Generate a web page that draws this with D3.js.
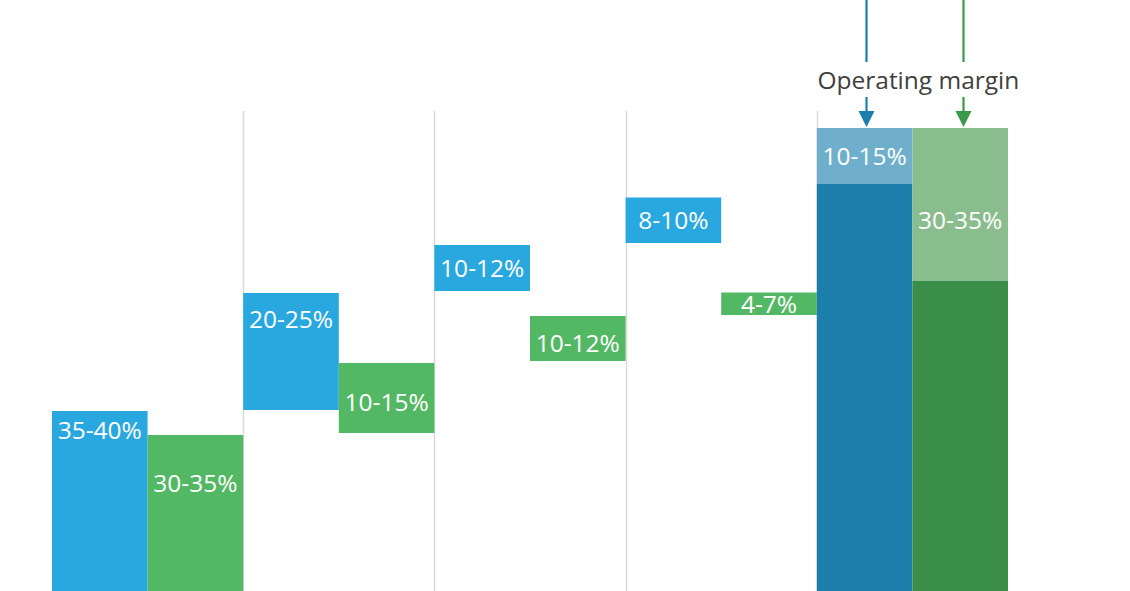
<!DOCTYPE html>
<html>
<head>
<meta charset="utf-8">
<script src="https://cdn.jsdelivr.net/npm/d3@7"></script>
<style>
  body { margin: 0; background: #fff; }
  svg { display: block; }
  text { font-family: "Open Sans", "Noto Sans", sans-serif; }
</style>
</head>
<body>
<svg id="chart" width="1130" height="591"></svg>
<script>

// Steps of the waterfall, last one is the total column
var groups = ['Step 1', 'Step 2', 'Step 3', 'Step 4', 'Total'];
var series = ['blue', 'green'];

// Floating bars, share of revenue (start / end of each step)
var blueStart = [0, 43.6, 67.4, 77, 0];
var blueEnd = [43.4, 67, 76.6, 86.1, 88.8];
var greenStart = [0, 39, 53.4, 62.6, 0];
var greenEnd = [38.6, 53, 62.4, 67.1, 69.4];

// Operating margin sits on top of the total column up to 100
var marginTop = 100;

var blueLabels = ['35-40%', '20-25%', '10-12%', '8-10%', '10-15%'];
var greenLabels = ['30-35%', '10-15%', '10-12%', '4-7%', '30-35%'];

var annotation = 'Operating margin';

var COLOR = {
    blue: { bar: '#29a7df', total: '#1b7eab', margin: '#6fafcc', arrow: '#1b7eab' },
    green: { bar: '#53b864', total: '#3a8e47', margin: '#8abd8e', arrow: '#3a9a49' }
};

var W = 1130, H = 591;
var svg = d3.select('#chart');

var x = d3.scaleBand()
    .domain(groups)
    .range([52, 1008])
    .padding(0);

var xs = d3.scaleBand()
    .domain(series)
    .range([0, x.bandwidth()]);

var y = d3.scaleLinear()
    .domain([0, 100])
    .range([628, 128]);

function buildBars() {
    var bars = [];
    var last = groups.length - 1;
    for (var i = 0; i < groups.length; i++) {
        bars.push({ g: groups[i], s: 'blue', y0: blueStart[i], y1: blueEnd[i],
            kind: i === last ? 'total' : 'bar', label: i === last ? null : blueLabels[i], i: i });
        bars.push({ g: groups[i], s: 'green', y0: greenStart[i], y1: greenEnd[i],
            kind: i === last ? 'total' : 'bar', label: i === last ? null : greenLabels[i], i: i });
    }
    // margin segments on the total column
    bars.push({ g: groups[last], s: 'blue', y0: blueEnd[last], y1: marginTop,
        kind: 'margin', label: blueLabels[last], i: last });
    bars.push({ g: groups[last], s: 'green', y0: greenEnd[last], y1: marginTop,
        kind: 'margin', label: greenLabels[last], i: last });
    return bars;
}

var bars = buildBars();

// gridlines between the groups
var grid = svg.append('g').attr('class', 'grid');
grid.selectAll('line')
    .data(groups.slice(1))
    .enter().append('line')
        .attr('x1', function(d) { return Math.round(x(d)) + 0.5; })
        .attr('x2', function(d) { return Math.round(x(d)) + 0.5; })
        .attr('y1', y(marginTop) - 17)
        .attr('y2', H)
        .style('stroke', '#d9d9d9')
        .style('stroke-width', 1.5);

var barG = svg.append('g').attr('class', 'bars');
barG.selectAll('rect')
    .data(bars)
    .enter().append('rect')
        .attr('x', function(d) { return x(d.g) + xs(d.s); })
        .attr('width', xs.bandwidth())
        .attr('y', function(d) { return y(d.y1); })
        .attr('height', function(d) { return y(d.y0) - y(d.y1); })
        .style('fill', function(d) { return COLOR[d.s][d.kind]; });

// Labels are hand placed in the original; px below bar top, null = centered
var labelDrop = {
    blue: [19.5, 26.5, null, null, null],
    green: [48, 39, 27, null, 92.5]
};

function labelY(d) {
    var top = y(d.y1);
    var drop = labelDrop[d.s][d.i];
    if (drop !== null && drop !== undefined) {
        return top + drop;
    }
    return (top + Math.min(y(d.y0), H)) / 2;
}

barG.selectAll('text')
    .data(bars.filter(function(d) { return d.label; }))
    .enter().append('text')
        .attr('x', function(d) { return x(d.g) + xs(d.s) + xs.bandwidth() / 2; })
        .attr('y', labelY)
        .attr('dy', '0.36em')
        .attr('text-anchor', 'middle')
        .style('fill', '#fff')
        .style('font-size', '24.5px')
        .text(function(d) { return d.label; });

// Operating margin callout with arrows
function createCallout() {
    var total = groups[groups.length - 1];
    var topY = y(marginTop);
    var call = svg.append('g').attr('class', 'callout');

    var cx = x(total) + x.bandwidth() / 2;

    call.append('text')
        .attr('x', cx + 6)
        .attr('y', topY - 39)
        .attr('text-anchor', 'middle')
        .style('fill', '#404040')
        .style('font-size', '24.5px')
        .text(annotation);

    series.forEach(function(s, k) {
        var ax = Math.round(x(total) + xs(s) + xs.bandwidth() / 2) + (k === 1 ? 3.5 : 1.5);
        var col = COLOR[s].arrow;

        call.append('line')
            .attr('x1', ax).attr('x2', ax)
            .attr('y1', 0).attr('y2', topY - 66)
            .style('stroke', col)
            .style('stroke-width', 2.2);

        call.append('line')
            .attr('x1', ax).attr('x2', ax)
            .attr('y1', topY - 31).attr('y2', topY - 14)
            .style('stroke', col)
            .style('stroke-width', 2.2);

        call.append('path')
            .attr('d', 'M' + (ax - 8) + ',' + (topY - 17) +
                'L' + (ax + 8) + ',' + (topY - 17) +
                'L' + ax + ',' + (topY - 1) + 'Z')
            .style('fill', col);
    });
}

createCallout();

</script>
</body>
</html>
